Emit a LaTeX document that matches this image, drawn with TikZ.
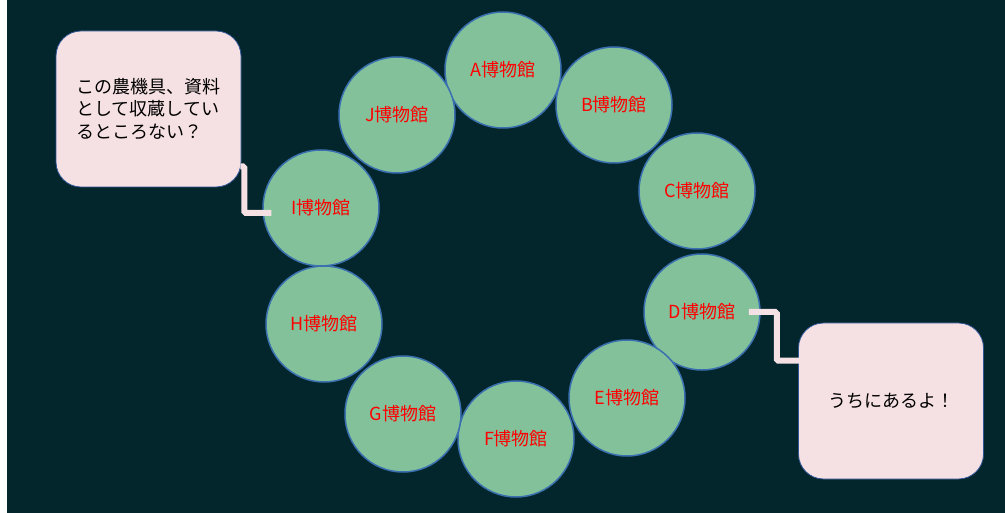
\documentclass[tikz,border=0pt]{standalone}
\usepackage{fontspec}
\newfontfamily\jp{Noto Sans CJK JP}
\usetikzlibrary{calc}
\definecolor{bgdark}{HTML}{03252C}
\definecolor{circfill}{HTML}{82C19A}
\definecolor{circline}{HTML}{3A70B0}
\definecolor{boxfill}{HTML}{F5E1E3}
\definecolor{boxline}{HTML}{2F5597}
\tikzset{
  museum/.style={circle, draw=circline, line width=1.5pt, fill=circfill, minimum size=116pt, inner sep=0pt, text=red, font=\jp\fontsize{18}{20}\selectfont},
  speech/.style={rectangle, rounded corners=25pt, draw=boxline, line width=0.8pt, fill=boxfill, minimum width=185pt, minimum height=156pt, inner sep=0pt, text=black, align=left, font=\jp\fontsize{18}{22.5}\selectfont},
  conn/.style={draw=boxfill, line width=6pt, rounded corners=1.5pt}
}
\begin{document}
\begin{tikzpicture}[x=1pt,y=-1pt]
\useasboundingbox (0,0) rectangle (1005,513);
\fill[white] (0,0) rectangle (1005,513);
\fill[bgdark] (7,0) rectangle (1005,513);
\node[museum] (A) at (503,70) {A博物館};
\node[museum] (B) at (614,105) {B博物館};
\node[museum] (C) at (697,191) {C博物館};
\node[museum] (D) at (702,312) {D博物館};
\node[museum] (E) at (627,398) {E博物館};
\node[museum] (F) at (516,439) {F博物館};
\node[museum] (G) at (403,414) {G博物館};
\node[museum] (H) at (324,324) {H博物館};
\node[museum] (I) at (321,208) {I博物館};
\node[museum] (J) at (397,115) {J博物館};
\node[speech] (lbox) at (148.5,109) {この農機具、資料\\として収蔵してい\\るところない？};
\node[speech] (rbox) at (891,401) {うちにあるよ！};
\draw[conn] ($(lbox.south east)+(-1,-21)$) -- ++(4,0) |- ($(I.west)+(9,5)$);
\draw[conn] ($(D.east)+(-12,0)$) -- ++(28,0) |- ($(rbox.north west)+(1,38)$);
\end{tikzpicture}
\end{document}
